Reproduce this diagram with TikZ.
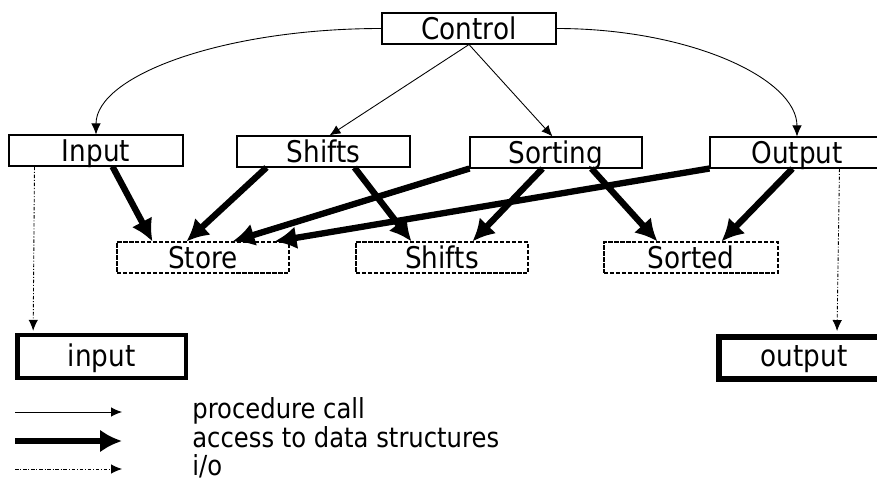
\documentclass[tikz,border=0pt]{standalone}
\usepackage{fontspec}
\setmainfont{DejaVu Sans}[FakeStretch=0.88]
\usepackage{tikz}
\usetikzlibrary{arrows.meta}
\tikzset{>=latex}

\begin{document}
\begin{tikzpicture}[x=0.02cm, y=-0.02cm]
        % pbox = procedure, dbox = data structure, fbox = file
        \tikzstyle{pbox}=[draw=black, line width=0.6pt, minimum width=3.48cm, inner xsep=0pt, inner ysep=0pt, text height=0.54cm, text depth=0.08cm, font=\fontsize{17}{20}\selectfont]
        \tikzstyle{dbox}=[pbox, dash pattern=on 2.4pt off 1pt]
        \tikzstyle{fbox}=[draw=black, line width=2.4pt, minimum width=3.39cm, inner xsep=0pt, inner ysep=0pt, text height=0.64cm, text depth=0.22cm, font=\fontsize{17}{20}\selectfont]
        \tikzstyle{legend}=[anchor=base west, inner sep=0pt, font=\fontsize{15.7}{18}\selectfont]
        \tikzstyle{call}=[line width=0.5pt, -{Latex[length=0.22cm, width=0.19cm]}]
        \tikzstyle{access}=[line width=3.6pt, -{Latex[length=0.44cm, width=0.46cm]}]
        \tikzstyle{io}=[line width=0.5pt, dash pattern=on 2pt off 1pt on 0.6pt off 1pt, -{Latex[length=0.22cm, width=0.19cm]}]

        \path[use as bounding box, clip] (0,0) rectangle (877,480);

        \node[pbox] (Control) at (469,28.5) {Control};
        \node[pbox] (Input) at (96,150.5) {Input};
        \node[pbox, minimum width=3.46cm] (Shifts) at (323.5,151.5) {Shifts};
        \node[pbox, minimum width=3.44cm] (Sorting) at (556,152.5) {Sorting};
        \node[pbox] (Output) at (797,152.5) {Output};

        \node[dbox, minimum width=3.44cm] (Store) at (203,257.5) {Store};
        \node[dbox, minimum width=3.44cm] (ShiftsData) at (442,257.5) {Shifts};
        \node[dbox] (Sorted) at (691,257.5) {Sorted};

        \node[fbox] (InFile) at (101.5,356.5) {input};
        \draw[line width=0.6pt] ([shift={(0.09cm,-0.08cm)}]InFile.north west) rectangle ([shift={(-0.06cm,0.06cm)}]InFile.south east);
        \node[fbox, line width=3.4pt, minimum width=3.4cm, text height=0.6cm, text depth=0.24cm] (OutFile) at (804,358) {output};

        \draw[call] (Control.west) .. controls +(-158,0) and +(0,-59) .. (Input.north);
        \draw[call] (Control.east) .. controls +(133,0) and +(0,-58) .. (Output.north);
        \draw[call] (Control.south) -- ([xshift=1.86cm]Shifts.north west);
        \draw[call] (Control.south) -- ([xshift=1.66cm]Sorting.north west);

        \draw[access] ([xshift=2.08cm]Input.south west) -- ([xshift=0.72cm]Store.north west);
        \draw[access] ([xshift=0.6cm]Shifts.south west) -- ([xshift=1.4cm]Store.north west);
        \draw[access] ([xshift=2.36cm]Shifts.south west) -- ([xshift=1.12cm]ShiftsData.north west);
        \draw[access] (Sorting.south west) -- ([xshift=2.32cm]Store.north west);
        \draw[access] ([xshift=1.46cm]Sorting.south west) -- ([xshift=2.34cm]ShiftsData.north west);
        \draw[access] ([xshift=2.44cm]Sorting.south west) -- ([xshift=1.08cm]Sorted.north west);
        \draw[access] (Output.south west) -- ([xshift=3.16cm]Store.north west);
        \draw[access] ([xshift=1.66cm]Output.south west) -- ([xshift=2.36cm]Sorted.north west);

        \draw[io, shorten >=1.2pt] ([xshift=0.52cm]Input.south west) -- ([xshift=0.37cm]InFile.north west);
        \draw[io, shorten >=1.7pt] ([xshift=2.6cm]Output.south west) -- ([xshift=2.42cm]OutFile.north west);

        % legend
        \coordinate (CallA) at (15,412);
        \coordinate (CallB) at (122,412);
        \coordinate (AccessA) at (15,441);
        \coordinate (AccessB) at (122,441);
        \coordinate (IoA) at (15,469);
        \coordinate (IoB) at (122,469);
        \draw[call] (CallA) -- (CallB);
        \draw[access] (AccessA) -- (AccessB);
        \draw[io] (IoA) -- (IoB);
        \node[legend] (CallText) at (192,418.5) {procedure call};
        \node[legend] (AccessText) at (192,447) {access to data structures};
        \node[legend] (IoText) at (192,475) {i/o};
\end{tikzpicture}
\end{document}
